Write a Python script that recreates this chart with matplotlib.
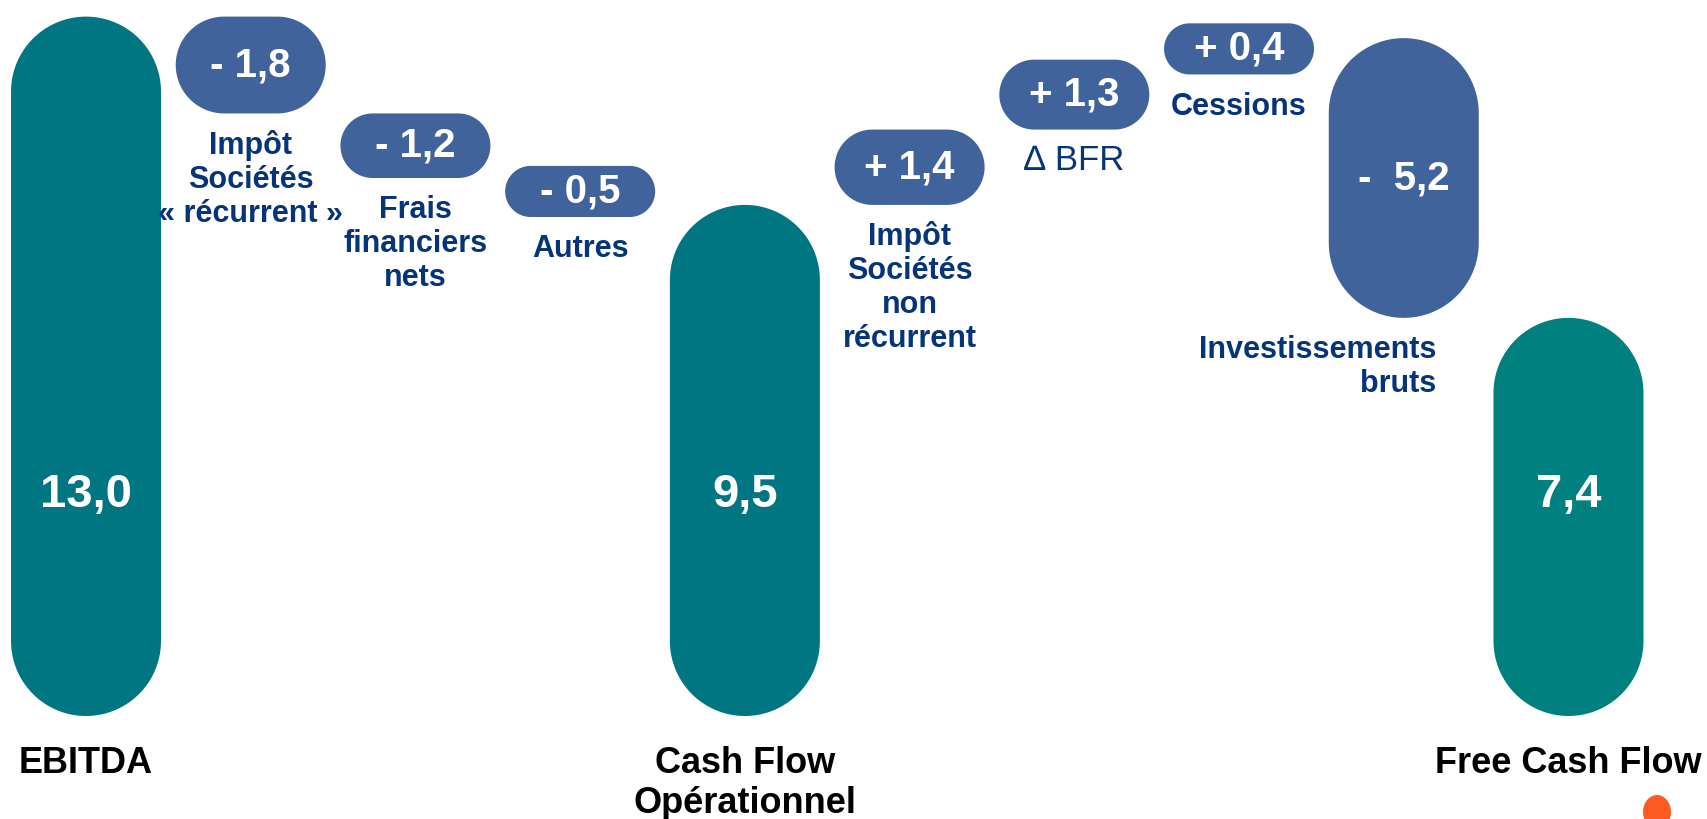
"""Cash flow bridge: EBITDA to Free Cash Flow, drawn as rounded pills."""

import numpy as np
import matplotlib

matplotlib.use("Agg")
import matplotlib.pyplot as plt
from matplotlib.patches import Polygon, Ellipse

plt.rcParams["font.family"] = ["Liberation Sans", "DejaVu Sans"]

# Totals
total_labels = ["EBITDA", "Cash Flow\nOpérationnel", "Free Cash Flow"]
total_values = [13.0, 9.5, 7.4]
total_text = ["13,0", "9,5", "7,4"]
total_pos = [0, 4, 9]

# Movements between the totals
delta_labels = [
    "Impôt\nSociétés\n« récurrent »",
    "Frais\nfinanciers\nnets",
    "Autres",
    "Impôt\nSociétés\nnon\nrécurrent",
    "∆ BFR",
    "Cessions",
    "Investissements\nbruts",
]
delta_values = [-1.8, -1.2, -0.5, 1.4, 1.3, 0.4, -5.2]
delta_text = ["- 1,8", "- 1,2", "- 0,5", "+ 1,4", "+ 1,3", "+ 0,4", "-  5,2"]
delta_pos = [1, 2, 3, 5, 6, 7, 8]

TEAL = ["#007682", "#007682", "#00807F"]
BLUE = "#41639B"
NAVY = "#06347A"

W, H = 1707, 819
PX_X = 164.72   # pixels per x unit
PX_Y = 53.8     # pixels per value unit
X0_PX = 86
Y0_PX = 103
PILL_PX = 150
MIN_H = 0.95    # smallest pill height, in value units


def pill(ax, xc, y0, y1, color):
    w = PILL_PX / PX_X
    h_px = (y1 - y0) * PX_Y
    r_px = min(PILL_PX, h_px) / 2
    rx, ry = r_px / PX_X, r_px / PX_Y
    if h_px >= PILL_PX:
        t = np.linspace(0, np.pi, 80)
        top = np.column_stack([xc + rx * np.cos(t), y1 - ry + ry * np.sin(t)])
        bot = np.column_stack([xc - rx * np.cos(t), y0 + ry - ry * np.sin(t)])
        pts = np.vstack([top, bot])
    else:
        t = np.linspace(-np.pi / 2, np.pi / 2, 80)
        ym = (y0 + y1) / 2
        right = np.column_stack([xc + w / 2 - rx + rx * np.cos(t), ym + ry * np.sin(t)])
        left = np.column_stack([xc - w / 2 + rx - rx * np.cos(t), ym - ry * np.sin(t)])
        pts = np.vstack([right, left])
    ax.add_patch(Polygon(pts, closed=True, facecolor=color, edgecolor="none"))


def lines(ax, x, y, text, step, **kw):
    for i, line in enumerate(text.split("\n")):
        ax.text(x, y - i * step, line, va="baseline", **kw)


fig = plt.figure(figsize=(W / 100, H / 100), dpi=100)
ax = fig.add_axes([0, 0, 1, 1])
ax.set_xlim(-X0_PX / PX_X, (W - X0_PX) / PX_X)
ax.set_ylim(-Y0_PX / PX_Y, (H - Y0_PX) / PX_Y)
ax.axis("off")

# Totals
for pos, val, txt, lab, col in zip(total_pos, total_values, total_text, total_labels, TEAL):
    pill(ax, pos, 0, val, col)
    ax.text(pos, 4.1, txt, ha="center", va="center", color="white",
            fontsize=34, fontweight="bold")
    lines(ax, pos, -1.06, lab, 40 / PX_Y, ha="center", color="black",
          fontsize=26, fontweight="bold")

# Movements
level = total_values[0]
for pos, val, txt, lab in zip(delta_pos, delta_values, delta_text, delta_labels):
    start, end = level, level + val
    level = end
    lo, hi = min(start, end), max(start, end)
    if hi - lo < MIN_H:
        mid = (lo + hi) / 2
        lo, hi = mid - MIN_H / 2, mid + MIN_H / 2
    pill(ax, pos, lo, hi, BLUE)
    ax.text(pos, (lo + hi) / 2, txt, ha="center", va="center", color="white",
            fontsize=29, fontweight="bold")

    if lab.startswith("∆"):
        kw = dict(ha="center", fontsize=25, fontweight="normal")
        x = pos
    elif lab.startswith("Invest"):
        kw = dict(ha="right", fontsize=22, fontweight="bold")
        x = pos + 0.2
    else:
        kw = dict(ha="center", fontsize=22, fontweight="bold")
        x = pos
    lines(ax, x, lo - 0.75, lab, 34 / PX_Y, color=NAVY, **kw)

# logo fragment at the bottom right
fig.patches.append(Ellipse((1657 / W, (H - 812) / H), 28 / W, 34 / H,
                           transform=fig.transFigure, facecolor="#FF5A1F",
                           edgecolor="none"))

fig.savefig("out.png", dpi=100)
